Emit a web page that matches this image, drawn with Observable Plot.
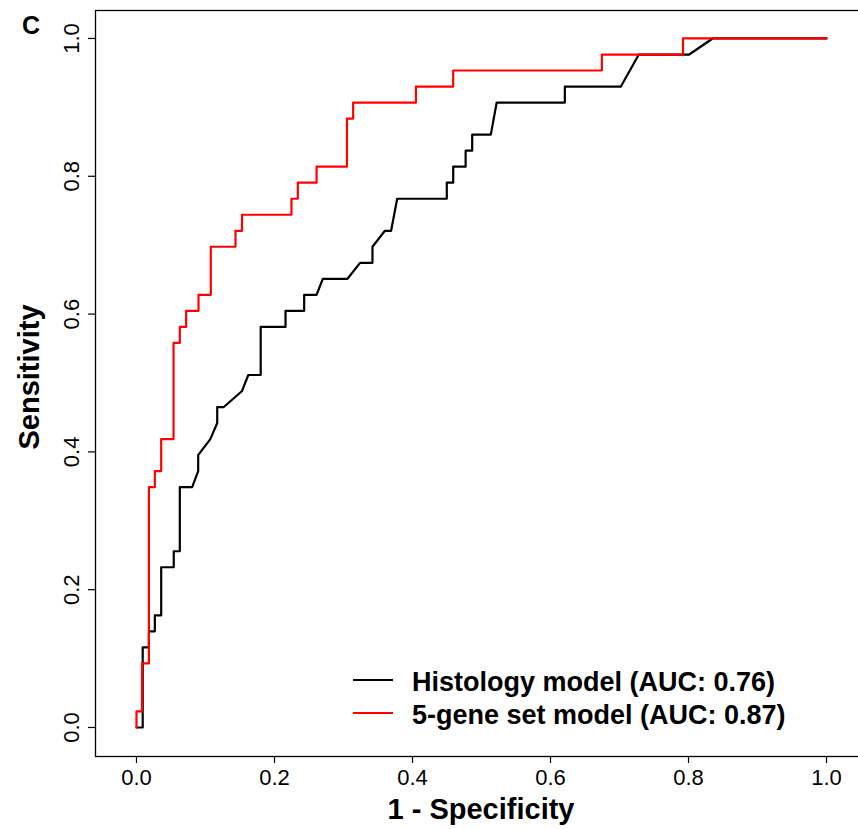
<!DOCTYPE html>
<html>
<head>
<meta charset="utf-8">
<script src="https://cdn.jsdelivr.net/npm/d3@7"></script>
<script src="https://cdn.jsdelivr.net/npm/@observablehq/plot@0.6"></script>
<style>
  html, body { margin: 0; padding: 0; background: #fff; }
  #chart svg { display: block; }
</style>
</head>
<body>
<div id="chart"></div>
<script>
// ---- Data ----
const histFpr  = [0, 0.009, 0.009, 0.018, 0.018, 0.0266, 0.0266, 0.0358, 0.0358, 0.054, 0.054, 0.0628, 0.0628, 0.0807, 0.0894, 0.0894, 0.107, 0.117, 0.117, 0.1266, 0.153, 0.162, 0.180, 0.180, 0.216, 0.216, 0.243, 0.243, 0.261, 0.270, 0.3058, 0.324, 0.342, 0.342, 0.360, 0.369, 0.3778, 0.4497, 0.4497, 0.459, 0.459, 0.477, 0.477, 0.4865, 0.4865, 0.5135, 0.522, 0.6208, 0.6208, 0.702, 0.728, 0.801, 0.835, 1];
const histSens = [0, 0, 0.1163, 0.1163, 0.1395, 0.1395, 0.1628, 0.1628, 0.2326, 0.2326, 0.2558, 0.2558, 0.3488, 0.3488, 0.3721, 0.3953, 0.4186, 0.4419, 0.4651, 0.4651, 0.4884, 0.5116, 0.5116, 0.5814, 0.5814, 0.6047, 0.6047, 0.6279, 0.6279, 0.6512, 0.6512, 0.6744, 0.6744, 0.6977, 0.7209, 0.7209, 0.7674, 0.7674, 0.7907, 0.7907, 0.8140, 0.8140, 0.8372, 0.8372, 0.8605, 0.8605, 0.9070, 0.9070, 0.9302, 0.9302, 0.9767, 0.9767, 1, 1];

const geneFpr  = [0, 0, 0.008, 0.008, 0.018, 0.018, 0.0266, 0.0266, 0.0358, 0.0358, 0.0537, 0.0537, 0.0628, 0.0628, 0.072, 0.072, 0.0899, 0.0899, 0.1077, 0.1077, 0.1435, 0.1435, 0.153, 0.153, 0.2246, 0.2246, 0.2338, 0.2338, 0.261, 0.261, 0.305, 0.305, 0.314, 0.314, 0.405, 0.405, 0.459, 0.459, 0.6744, 0.6744, 0.792, 0.792, 1];
const geneSens = [0, 0.0233, 0.0233, 0.093, 0.093, 0.3488, 0.3488, 0.3721, 0.3721, 0.4186, 0.4186, 0.5581, 0.5581, 0.5814, 0.5814, 0.6047, 0.6047, 0.6279, 0.6279, 0.6977, 0.6977, 0.7209, 0.7209, 0.7442, 0.7442, 0.7674, 0.7674, 0.7907, 0.7907, 0.8140, 0.8140, 0.8837, 0.8837, 0.9070, 0.9070, 0.9302, 0.9302, 0.9535, 0.9535, 0.9767, 0.9767, 1, 1];

const xTicks = [0, 0.2, 0.4, 0.6, 0.8, 1.0];
const yTicks = [0, 0.2, 0.4, 0.6, 0.8, 1.0];
const tickLabels = ["0.0", "0.2", "0.4", "0.6", "0.8", "1.0"];
const seriesNames = ["Histology model (AUC: 0.76)", "5-gene set model (AUC: 0.87)"];
const seriesColors = ["#000000", "#ff0000"];
const xTitle = "1 - Specificity";
const yTitle = "Sensitivity";
const panelLabel = "C";

// ---- Build tables ----
const hist = histFpr.map((f, i) => ({fpr: f, sens: histSens[i]}));
const gene = geneFpr.map((f, i) => ({fpr: f, sens: geneSens[i]}));
const fmt = d => tickLabels[xTicks.indexOf(d)] ?? d.toFixed(1);

const FONT = "'Liberation Sans', Arial, Helvetica, sans-serif";

const plot = Plot.plot({
  width: 858,
  height: 829,
  marginLeft: 95,
  marginRight: -9,
  marginTop: 10,
  marginBottom: 73,
  style: {fontFamily: FONT, fontSize: "22px", background: "#fff", color: "#000", overflow: "hidden"},
  x: {domain: [-0.0594, 1.0594]},
  y: {domain: [-0.0421, 1.0406]},
  marks: [
    Plot.frame({stroke: "#000", strokeWidth: 1.3}),
    Plot.axisX({ticks: xTicks, tickSize: 7, tickPadding: 6, fontSize: 22, tickFormat: fmt, label: null, strokeWidth: 1.2}),
    Plot.axisY({ticks: yTicks, tickSize: 7, tickPadding: 10, fontSize: 22, tickRotate: -90, tickFormat: fmt, label: null, strokeWidth: 1.2}),
    Plot.line(hist, {x: "fpr", y: "sens", stroke: seriesColors[0], strokeWidth: 2.2, curve: "linear"}),
    Plot.line(gene, {x: "fpr", y: "sens", stroke: seriesColors[1], strokeWidth: 2.2, curve: "linear"})
  ]
});

document.getElementById("chart").appendChild(plot);

// ---- Annotations: titles, panel label, legend ----
const svg = d3.select(plot);
const xMid = (95 + 867) / 2;
const yMid = 377;

svg.append("text")
  .attr("x", xMid).attr("y", 819)
  .attr("text-anchor", "middle")
  .attr("font-family", FONT).attr("font-weight", "bold").attr("font-size", 29)
  .attr("fill", "#000")
  .text(xTitle);

svg.append("text")
  .attr("transform", `translate(39,${yMid}) rotate(-90)`)
  .attr("text-anchor", "middle")
  .attr("font-family", FONT).attr("font-weight", "bold").attr("font-size", 29)
  .attr("fill", "#000")
  .text(yTitle);

svg.append("text")
  .attr("x", 22).attr("y", 34)
  .attr("text-anchor", "start")
  .attr("font-family", FONT).attr("font-weight", "bold").attr("font-size", 25)
  .attr("fill", "#000")
  .text(panelLabel);

const legY = [680, 713];
seriesNames.forEach((name, i) => {
  svg.append("line")
    .attr("x1", 353).attr("x2", 393)
    .attr("y1", legY[i]).attr("y2", legY[i])
    .attr("stroke", seriesColors[i]).attr("stroke-width", 2.2);
  svg.append("text")
    .attr("x", 412).attr("y", legY[i] + 11)
    .attr("text-anchor", "start")
    .attr("font-family", FONT).attr("font-weight", "bold").attr("font-size", 27)
    .attr("fill", "#000")
    .text(name);
});
</script>
</body>
</html>
